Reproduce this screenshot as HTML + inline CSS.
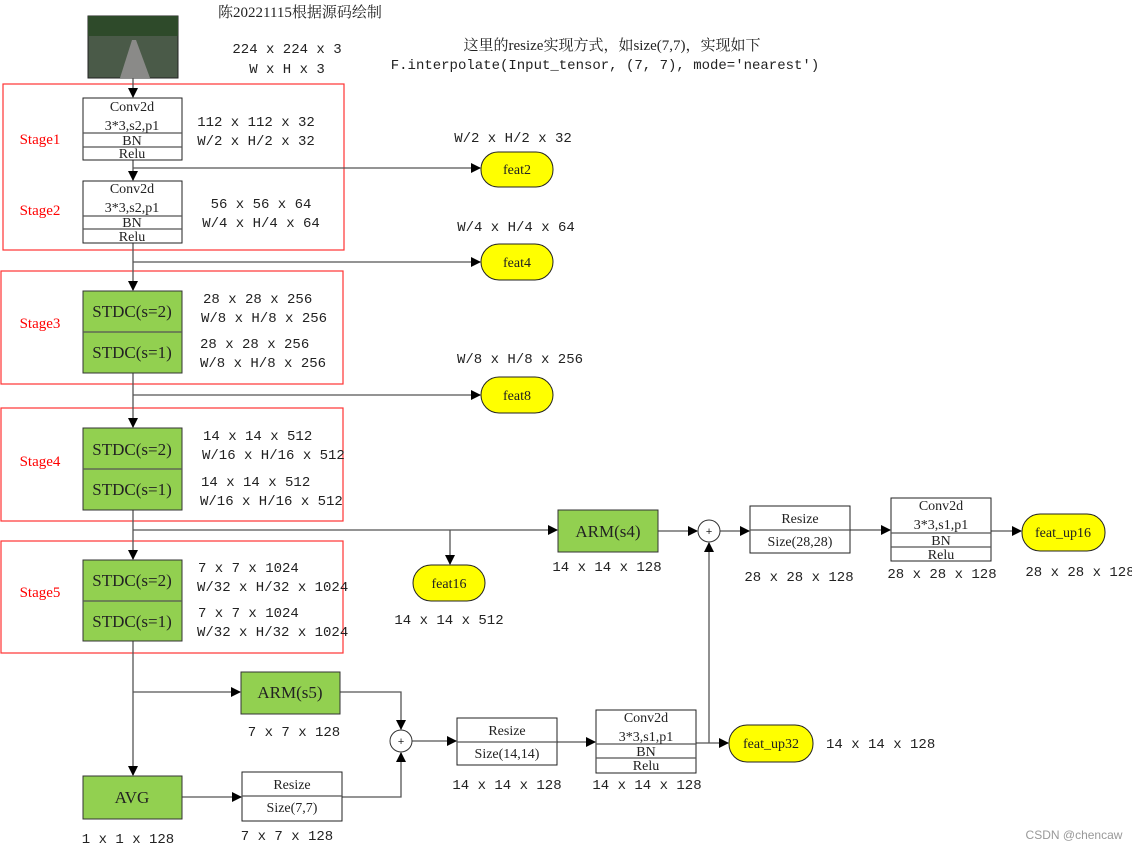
<!DOCTYPE html>
<html><head><meta charset="utf-8"><style>
body{margin:0;background:#fff}
svg text{font-family:"Liberation Mono","Noto Serif CJK SC",monospace;font-size:14px;fill:#222}
.s{font-family:"Liberation Serif","Noto Serif CJK SC",serif}
.r{fill:#f00;font-family:"Liberation Serif",serif;font-size:15px}
.g{fill:#92d050;stroke:#333;stroke-width:1}
.w{fill:#fff;stroke:#222;stroke-width:1}
.y{fill:#ff0;stroke:#222;stroke-width:1}
.l{stroke:#555;stroke-width:1.3;fill:none}
.rb{fill:none;stroke:#f33;stroke-width:1.2}
</style></head><body>
<svg width="1132" height="849" xmlns="http://www.w3.org/2000/svg">
<defs><marker id="a" markerWidth="10" markerHeight="10" refX="9" refY="5" orient="auto" markerUnits="userSpaceOnUse"><path d="M0,0 L10,5 L0,10 z" fill="#000"/></marker></defs>
<g text-anchor="middle">
<text x="300" y="17" class="s" style="font-size:15px">陈20221115根据源码绘制</text>
<rect x="88" y="16" width="90" height="62" fill="#4a5a48" stroke="#222"/>
<polygon points="120,78 150,78 136,40 132,40" fill="#8a8a88"/>
<rect x="88" y="16" width="90" height="20" fill="#2e4a2a"/>
<text x="287" y="53">224 x 224 x 3</text>
<text x="287" y="73">W x H x 3</text>
<text x="612" y="50" class="s" style="font-size:15px">这里的resize实现方式，如size(7,7)，实现如下</text>
<text x="605" y="69">F.interpolate(Input_tensor, (7, 7), mode='nearest')</text>

<!-- stage boxes -->
<rect class="rb" x="3" y="84" width="341" height="166"/>
<rect class="rb" x="1" y="271" width="342" height="113"/>
<rect class="rb" x="1" y="408" width="342" height="113"/>
<rect class="rb" x="1" y="541" width="342" height="112"/>
<text class="r" x="40" y="144">Stage1</text>
<text class="r" x="40" y="215">Stage2</text>
<text class="r" x="40" y="328">Stage3</text>
<text class="r" x="40" y="466">Stage4</text>
<text class="r" x="40" y="597">Stage5</text>

<!-- lines -->
<line class="l" x1="133" y1="78" x2="133" y2="97" marker-end="url(#a)"/>
<line class="l" x1="133" y1="160" x2="133" y2="180" marker-end="url(#a)"/>
<line class="l" x1="133" y1="168" x2="480" y2="168" marker-end="url(#a)"/>
<line class="l" x1="133" y1="243" x2="133" y2="290" marker-end="url(#a)"/>
<line class="l" x1="133" y1="262" x2="480" y2="262" marker-end="url(#a)"/>
<line class="l" x1="133" y1="373" x2="133" y2="427" marker-end="url(#a)"/>
<line class="l" x1="133" y1="395" x2="480" y2="395" marker-end="url(#a)"/>
<line class="l" x1="133" y1="510" x2="133" y2="559" marker-end="url(#a)"/>
<line class="l" x1="133" y1="530" x2="557" y2="530" marker-end="url(#a)"/>
<line class="l" x1="450" y1="530" x2="450" y2="564" marker-end="url(#a)"/>
<line class="l" x1="133" y1="641" x2="133" y2="775" marker-end="url(#a)"/>
<line class="l" x1="133" y1="692" x2="240" y2="692" marker-end="url(#a)"/>
<line class="l" x1="182" y1="797" x2="241" y2="797" marker-end="url(#a)"/>
<polyline class="l" points="340,692 401,692 401,729" marker-end="url(#a)"/>
<polyline class="l" points="342,797 401,797 401,753" marker-end="url(#a)"/>
<line class="l" x1="412" y1="741" x2="456" y2="741" marker-end="url(#a)"/>
<line class="l" x1="557" y1="742" x2="595" y2="742" marker-end="url(#a)"/>
<line class="l" x1="696" y1="743" x2="728" y2="743" marker-end="url(#a)"/>
<line class="l" x1="709" y1="743" x2="709" y2="543" marker-end="url(#a)"/>
<line class="l" x1="658" y1="531" x2="697" y2="531" marker-end="url(#a)"/>
<line class="l" x1="720" y1="531" x2="749" y2="531" marker-end="url(#a)"/>
<line class="l" x1="850" y1="530" x2="890" y2="530" marker-end="url(#a)"/>
<line class="l" x1="991" y1="531" x2="1021" y2="531" marker-end="url(#a)"/>

<!-- conv blocks -->
<rect class="w" x="83" y="98" width="99" height="62"/>
<line class="l" x1="83" y1="133" x2="182" y2="133"/><line class="l" x1="83" y1="147" x2="182" y2="147"/>
<text class="s" x="132" y="111">Conv2d</text><text class="s" x="132" y="130">3*3,s2,p1</text>
<text class="s" x="132" y="145">BN</text><text class="s" x="132" y="158">Relu</text>
<rect class="w" x="83" y="181" width="99" height="62"/>
<line class="l" x1="83" y1="216" x2="182" y2="216"/><line class="l" x1="83" y1="229" x2="182" y2="229"/>
<text class="s" x="132" y="193">Conv2d</text><text class="s" x="132" y="212">3*3,s2,p1</text>
<text class="s" x="132" y="227">BN</text><text class="s" x="132" y="241">Relu</text>
<text x="256" y="126">112 x 112 x 32</text><text x="256" y="145">W/2 x H/2 x 32</text>
<text x="261" y="208">56 x 56 x 64</text><text x="261" y="227">W/4 x H/4 x 64</text>

<!-- STDC -->
<g style="font-size:17px">
<rect class="g" x="83" y="291" width="99" height="82"/><line class="l" x1="83" y1="332" x2="182" y2="332"/>
<text class="s" x="132" y="317" style="font-size:17px">STDC(s=2)</text><text class="s" x="132" y="358" style="font-size:17px">STDC(s=1)</text>
<rect class="g" x="83" y="428" width="99" height="82"/><line class="l" x1="83" y1="469" x2="182" y2="469"/>
<text class="s" x="132" y="455" style="font-size:17px">STDC(s=2)</text><text class="s" x="132" y="495" style="font-size:17px">STDC(s=1)</text>
<rect class="g" x="83" y="560" width="99" height="81"/><line class="l" x1="83" y1="601" x2="182" y2="601"/>
<text class="s" x="132" y="586" style="font-size:17px">STDC(s=2)</text><text class="s" x="132" y="627" style="font-size:17px">STDC(s=1)</text>
</g>
<g text-anchor="start">
<text x="203" y="303">28 x 28 x 256</text><text x="201" y="322">W/8 x H/8 x 256</text>
<text x="200" y="348">28 x 28 x 256</text><text x="200" y="367">W/8 x H/8 x 256</text>
<text x="203" y="440">14 x 14 x 512</text><text x="202" y="459">W/16 x H/16 x 512</text>
<text x="201" y="486">14 x 14 x 512</text><text x="200" y="505">W/16 x H/16 x 512</text>
<text x="198" y="572">7 x 7 x 1024</text><text x="197" y="591">W/32 x H/32 x 1024</text>
<text x="198" y="617">7 x 7 x 1024</text><text x="197" y="636">W/32 x H/32 x 1024</text>
<text x="826" y="748">14 x 14 x 128</text>
</g>

<!-- feats -->
<rect class="y" x="481" y="152" width="72" height="35" rx="17"/><text class="s" x="517" y="174">feat2</text>
<text x="513" y="142">W/2 x H/2 x 32</text>
<rect class="y" x="481" y="244" width="72" height="36" rx="18"/><text class="s" x="517" y="267">feat4</text>
<text x="516" y="231">W/4 x H/4 x 64</text>
<rect class="y" x="481" y="377" width="72" height="36" rx="18"/><text class="s" x="517" y="400">feat8</text>
<text x="520" y="363">W/8 x H/8 x 256</text>
<rect class="y" x="413" y="565" width="72" height="36" rx="18"/><text class="s" x="449" y="588">feat16</text>
<text x="449" y="624">14 x 14 x 512</text>

<!-- ARM s4 path -->
<rect class="g" x="558" y="510" width="100" height="42"/><text class="s" x="608" y="537" style="font-size:17px">ARM(s4)</text>
<text x="607" y="571">14 x 14 x 128</text>
<circle cx="709" cy="531" r="11" fill="#fff" stroke="#333"/><text x="709" y="535" style="font-size:11px">+</text>
<rect class="w" x="750" y="506" width="100" height="47"/><line class="l" x1="750" y1="530" x2="850" y2="530"/>
<text class="s" x="800" y="523">Resize</text><text class="s" x="800" y="546">Size(28,28)</text>
<text x="799" y="581">28 x 28 x 128</text>
<rect class="w" x="891" y="498" width="100" height="63"/>
<line class="l" x1="891" y1="533" x2="991" y2="533"/><line class="l" x1="891" y1="547" x2="991" y2="547"/>
<text class="s" x="941" y="510">Conv2d</text><text class="s" x="941" y="529">3*3,s1,p1</text>
<text class="s" x="941" y="545">BN</text><text class="s" x="941" y="559">Relu</text>
<text x="942" y="578">28 x 28 x 128</text>
<rect class="y" x="1022" y="514" width="83" height="37" rx="18"/><text class="s" x="1063" y="537">feat_up16</text>
<text x="1080" y="576">28 x 28 x 128</text>

<!-- bottom -->
<rect class="g" x="241" y="672" width="99" height="42"/><text class="s" x="290" y="698" style="font-size:17px">ARM(s5)</text>
<text x="294" y="736">7 x 7 x 128</text>
<rect class="g" x="83" y="776" width="99" height="43"/><text class="s" x="132" y="803" style="font-size:17px">AVG</text>
<text x="128" y="843">1 x 1 x 128</text>
<rect class="w" x="242" y="772" width="100" height="49"/><line class="l" x1="242" y1="796" x2="342" y2="796"/>
<text class="s" x="292" y="789">Resize</text><text class="s" x="292" y="812">Size(7,7)</text>
<text x="287" y="840">7 x 7 x 128</text>
<circle cx="401" cy="741" r="11" fill="#fff" stroke="#333"/><text x="401" y="745" style="font-size:11px">+</text>
<rect class="w" x="457" y="718" width="100" height="47"/><line class="l" x1="457" y1="742" x2="557" y2="742"/>
<text class="s" x="507" y="735">Resize</text><text class="s" x="507" y="758">Size(14,14)</text>
<text x="507" y="789">14 x 14 x 128</text>
<rect class="w" x="596" y="710" width="100" height="63"/>
<line class="l" x1="596" y1="744" x2="696" y2="744"/><line class="l" x1="596" y1="758" x2="696" y2="758"/>
<text class="s" x="646" y="722">Conv2d</text><text class="s" x="646" y="741">3*3,s1,p1</text>
<text class="s" x="646" y="756">BN</text><text class="s" x="646" y="770">Relu</text>
<text x="647" y="789">14 x 14 x 128</text>
<rect class="y" x="729" y="725" width="84" height="37" rx="18"/><text class="s" x="771" y="748">feat_up32</text>
<text x="1074" y="839" style="font-family:'Liberation Sans',sans-serif;font-size:12px;fill:#999">CSDN @chencaw</text>
</g>
</svg>
</body></html>
